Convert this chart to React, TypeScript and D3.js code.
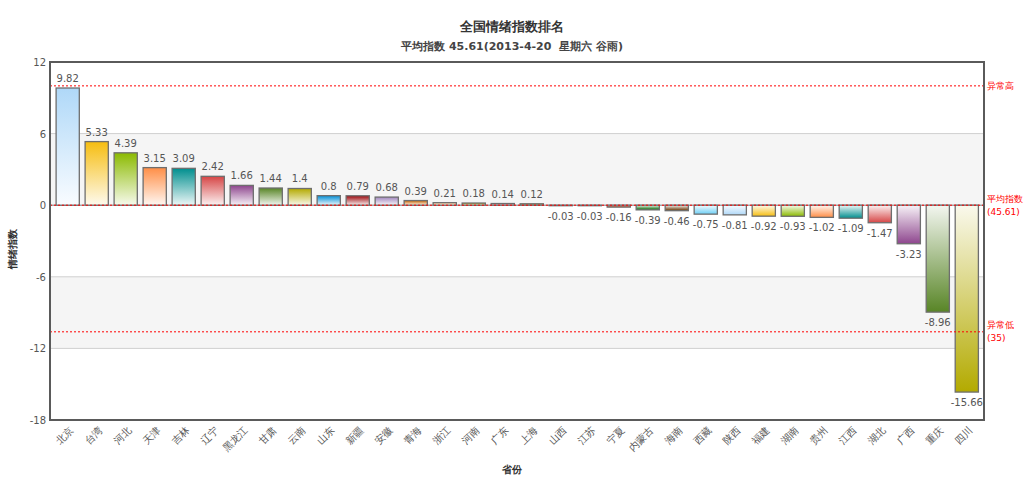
import React from 'react';
import * as d3 from 'd3';

// provinces, in rank order
const provinces = [
  '北京', '台湾', '河北', '天津', '吉林', '辽宁', '黑龙江', '甘肃', '云南', '山东', '新疆',
  '安徽', '青海', '浙江', '河南', '广东', '上海', '山西', '江苏', '宁夏', '内蒙古', '海南',
  '西藏', '陕西', '福建', '湖南', '贵州', '江西', '湖北', '广西', '重庆', '四川',
];

// index minus the national average (45.61)
const values = [
  9.82, 5.33, 4.39, 3.15, 3.09, 2.42, 1.66, 1.44, 1.4, 0.8, 0.79,
  0.68, 0.39, 0.21, 0.18, 0.14, 0.12, -0.03, -0.03, -0.16, -0.39, -0.46,
  -0.75, -0.81, -0.92, -0.93, -1.02, -1.09, -1.47, -3.23, -8.96, -15.66,
];

const yTicks = [12, 6, 0, -6, -12, -18];

// trend lines: label lines + value
const trendLines = [
  { value: 10, label: ['异常高'] },
  { value: 0, label: ['平均指数', '(45.61)'] },
  { value: -10.61, label: ['异常低', '(35)'] },
];

const palette = [
  '#AFD8F8', '#F6BD0F', '#8BBA00', '#FF8E46', '#008E8E', '#D64646', '#8E468E', '#588526',
  '#B3AA00', '#008ED6', '#9D080D', '#A186BE', '#CC6600', '#FDC689', '#ABA000', '#F26D7D',
  '#FFF200', '#0054A6', '#F7941C', '#CC3300', '#006600', '#663300', '#6DCFF6',
];

const W = 1025;
const H = 480;
const left = 50;
const right = 984;
const top = 62;
const bottom = 420;
const font = '"DejaVu Sans", Verdana, sans-serif';

export default function App() {
  const x = d3.scaleBand<string>().domain(provinces).range([53.2, 981.3]).paddingInner(0.2).paddingOuter(0.1);
  const y = d3.scaleLinear().domain([-18, 12]).range([bottom, top]);
  const bw = x.bandwidth();

  const bands = [[0, 6], [-12, -6]];

  return (
    <svg width={W} height={H} style={{ position: 'absolute', left: 0, top: 0, background: '#fff' }} fontFamily={font}>
      <defs>
        {values.map((v, i) => {
          const c = palette[i % palette.length];
          const light = d3.interpolateRgb(c, '#ffffff')(0.93);
          return (
            <linearGradient key={i} id={`g${i}`} x1="0" y1="0" x2="0" y2="1">
              <stop offset="0%" stopColor={v >= 0 ? c : light} />
              <stop offset="100%" stopColor={v >= 0 ? light : c} />
            </linearGradient>
          );
        })}
      </defs>

      <text x={512} y={31} textAnchor="middle" fontSize={13} fontWeight="bold" fill="#333">全国情绪指数排名</text>
      <text x={512} y={50} textAnchor="middle" fontSize={11} fontWeight="bold" fill="#444">
        {'平均指数 45.61(2013-4-20\u00a0\u00a0星期六 谷雨)'}
      </text>

      {/* alternating bands */}
      {bands.map(([a, b], i) => (
        <rect key={i} x={left} width={right - left} y={y(b)} height={y(a) - y(b)} fill="#f5f5f5" />
      ))}
      {yTicks.filter(t => t !== 0 && t !== 12 && t !== -18).map(t => (
        <line key={t} x1={left} x2={right} y1={y(t)} y2={y(t)} stroke="#cfcfcf" strokeWidth={1} />
      ))}
      <line x1={left} x2={right} y1={y(0)} y2={y(0)} stroke="#777" strokeWidth={1} />

      {/* bars */}
      {values.map((v, i) => {
        const x0 = x(provinces[i])!;
        const y0 = Math.min(y(v), y(0));
        const h = Math.max(Math.abs(y(v) - y(0)), 0.5);
        return (
          <rect key={i} x={x0} y={y0} width={bw} height={h} fill={`url(#g${i})`} stroke="#6e6e6e" strokeWidth={1.3} />
        );
      })}

      {/* value labels */}
      {values.map((v, i) => {
        const cx = x(provinces[i])! + bw / 2;
        return (
          <text key={i} x={cx} y={v >= 0 ? y(v) - 6 : y(v) + 14} textAnchor="middle" fontSize={10} fill="#555">
            {String(v)}
          </text>
        );
      })}

      {/* trend lines */}
      {trendLines.map((t, i) => (
        <g key={i}>
          <line x1={left} x2={right} y1={y(t.value)} y2={y(t.value)} stroke="#ff0000" strokeWidth={1} strokeDasharray="2,2" />
          {t.label.map((s, j) => (
            <text key={j} x={right + 3} y={y(t.value) + 3 + (j - (t.label.length - 1) / 2) * 13}
              fontSize={9} fill="#ff0000">{s}</text>
          ))}
        </g>
      ))}

      {/* frame */}
      <rect x={left} y={top} width={right - left} height={bottom - top} fill="none" stroke="#5a5a5a" strokeWidth={2} />

      {/* y axis */}
      {yTicks.map(t => (
        <text key={t} x={46} y={y(t) + 4} textAnchor="end" fontSize={10} fill="#555">{t}</text>
      ))}
      <text transform={`translate(16,${(top + bottom) / 2 + 8}) rotate(-90)`} textAnchor="middle" fontSize={10} fontWeight="bold" fill="#333">情绪指数</text>

      {/* x axis */}
      {provinces.map(p => {
        const cx = x(p)! + bw / 2 + 4;
        return (
          <text key={p} transform={`translate(${cx},${bottom + 9}) rotate(-45)`} textAnchor="end" dominantBaseline="middle" fontSize={10} fill="#555">{p}</text>
        );
      })}
      <text x={512} y={473} textAnchor="middle" fontSize={10} fontWeight="bold" fill="#333">省份</text>
    </svg>
  );
}
